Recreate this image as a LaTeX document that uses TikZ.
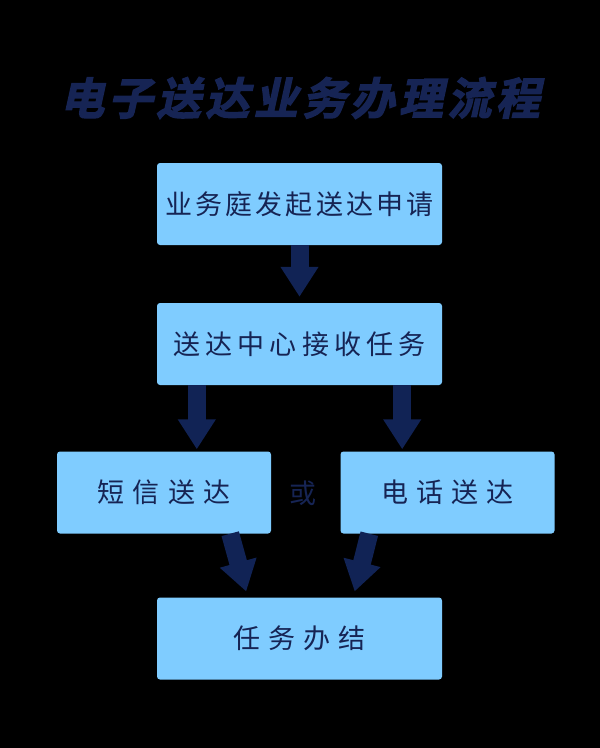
\documentclass[tikz,border=0pt]{standalone}
\usepackage{fontspec}
\usetikzlibrary{arrows.meta,calc}
\newfontfamily\cjk{Noto Sans CJK SC}
\newfontfamily\cjktitle[FakeSlant=0.22,FakeBold=3]{Noto Sans CJK SC Bold}
\definecolor{boxblue}{RGB}{127,204,255}
\definecolor{navy}{RGB}{22,36,84}
\definecolor{arrownavy}{RGB}{17,35,85}
\tikzset{
  stepbox/.style={draw=none,fill=boxblue,rounded corners=3pt,minimum width=285pt,minimum height=82pt,inner sep=0pt,text=navy,font=\cjk\fontsize{27}{30}\selectfont},
  sidebox/.style={stepbox,minimum width=214pt},
  bigarrow/.style={draw=arrownavy,line width=18pt,-{Triangle[width=36pt,length=30pt,fill=arrownavy]}}
}
\begin{document}
\begin{tikzpicture}[x=1pt,y=-1pt]
\fill[black] (0,0) rectangle (600,748);
\useasboundingbox (0,0) rectangle (600,748);
\node[text=navy,font=\cjktitle\fontsize{44}{48}\selectfont\addfontfeature{LetterSpace=10}] (title) at (300,98) {电子送达业务办理流程};
\node[stepbox] (b1) at (299.5,204) {\addfontfeature{LetterSpace=12}业务庭发起送达申请};
\node[stepbox] (b2) at (299.5,344) {\addfontfeature{LetterSpace=19}送达中心接收任务};
\node[sidebox] (b3) at (164,492.5) {\addfontfeature{LetterSpace=32}短信送达};
\node[sidebox] (b4) at (447.5,492.5) {\addfontfeature{LetterSpace=29}电话送达};
\node[stepbox] (b5) at (299.5,638.5) {\addfontfeature{LetterSpace=30}任务办结};
\node[text=navy,font=\cjk\fontsize{27}{30}\selectfont] (or) at (303,493) {或};
\coordinate (a1s) at (b1.south);
\coordinate (a2s) at ([xshift=40pt]b2.south west);
\coordinate (a3s) at ([xshift=-40pt]b2.south east);
\coordinate (a4s) at ([xshift=-41pt]b3.south east);
\coordinate (a4e) at ([xshift=91pt]b5.north west);
\coordinate (a5s) at ([xshift=29pt]b4.south west);
\coordinate (a5e) at ([xshift=-89pt]b5.north east);
\draw[bigarrow,shorten >=6pt] (a1s) -- (b2.north);
\draw[bigarrow,shorten >=2pt] (a2s) -- (a2s |- b3.north);
\draw[bigarrow,shorten >=2pt] (a3s) -- (a3s |- b4.north);
\draw[bigarrow,shorten >=6pt] (a4s) -- (a4e);
\draw[bigarrow,shorten >=6pt] (a5s) -- (a5e);
\end{tikzpicture}
\end{document}
